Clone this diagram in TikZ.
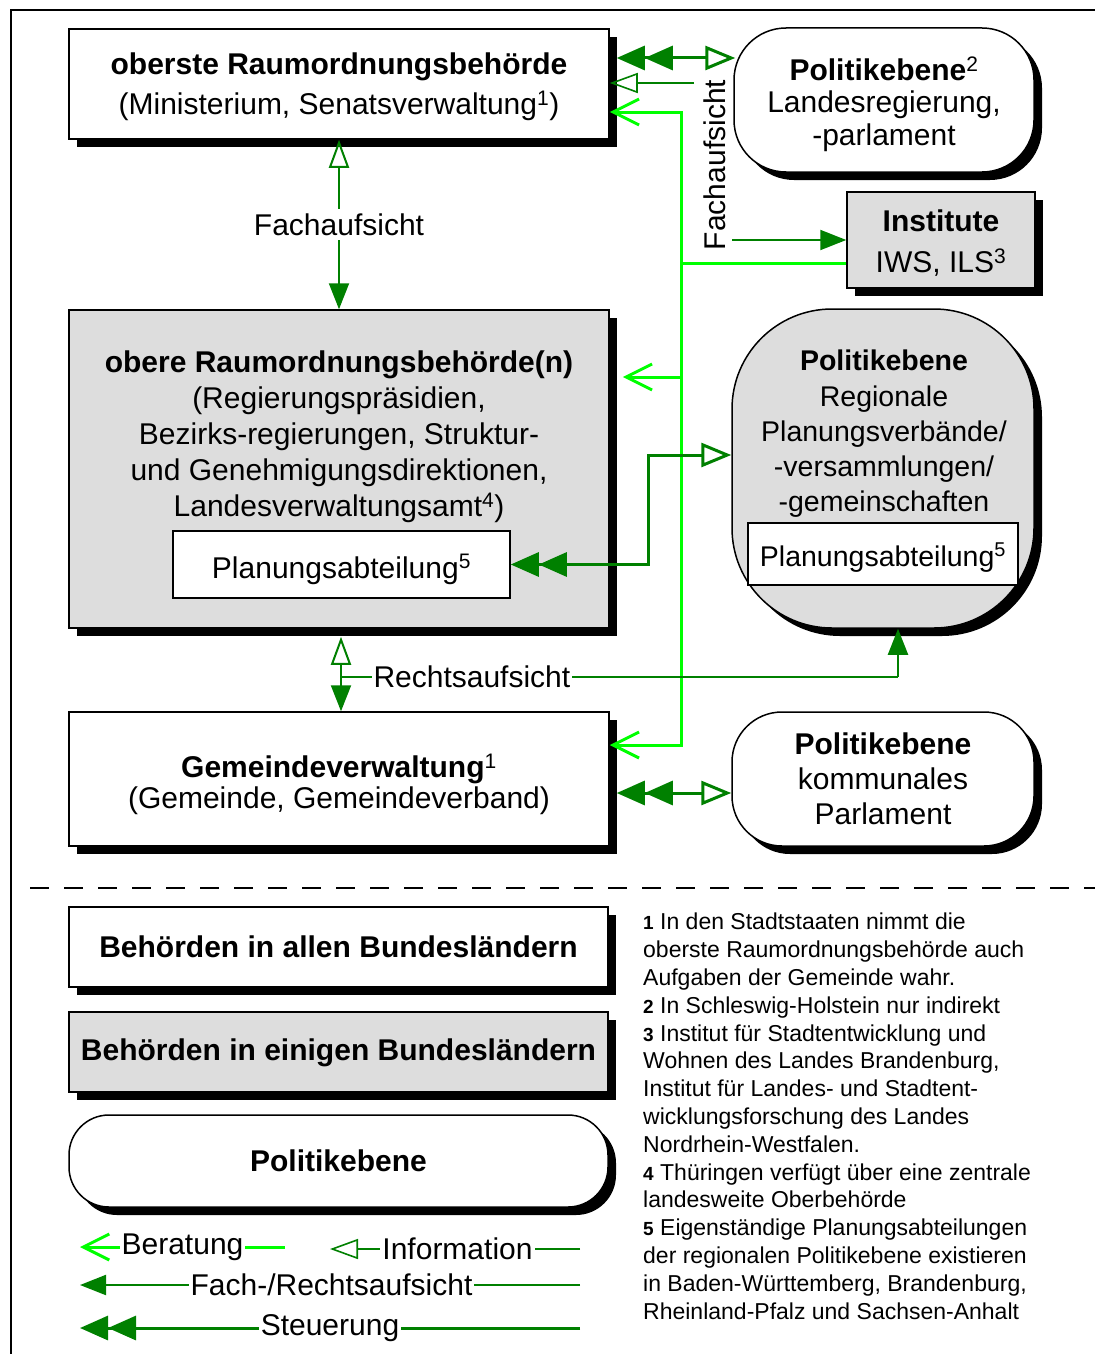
\documentclass[tikz,border=0pt]{standalone}
\usepackage{fontspec}
\setmainfont{Liberation Sans}
\usetikzlibrary{arrows.meta,shadows,calc}
\definecolor{dkgreen}{RGB}{0,128,0}
\definecolor{ltgreen}{RGB}{0,255,0}
\definecolor{boxgray}{RGB}{221,221,221}
\newcommand{\fnnr}[1]{{\bfseries\fontsize{19}{19}\selectfont #1}}

\tikzset{
  fachtip/.tip={Triangle[length=26pt,width=20pt]},
  infotip/.tip={Triangle[open,length=28pt,width=20pt]},
  steuertip/.tip={Triangle[length=28pt,width=24pt]},
  berattip/.tip={Straight Barb[length=26pt,width=26pt,line width=3pt]},
  txt/.style={font=\fontsize{30}{36}\selectfont},
  box/.style={draw=black, line width=1.5pt, fill=white, inner sep=0pt, align=center,
    general shadow={fill=black, shadow xshift=8pt, shadow yshift=-8pt}},
  graybox/.style={box, fill=boxgray},
  pol/.style={box, rounded corners=#1},
  subbox/.style={draw=black, line width=1.5pt, fill=white, inner sep=0pt, txt},
  beratline/.style={draw=ltgreen, line width=3pt},
  beratung/.style={beratline, arrows=-berattip},
  steuer/.style={draw=dkgreen, line width=3pt, arrows={steuertip[]steuertip[]-infotip[line width=3pt,width=24pt,length=30pt]}},
  info/.style={draw=dkgreen, line width=1.6pt, arrows=-infotip},
  fach/.style={draw=dkgreen, line width=2pt, arrows=-fachtip},
  lbl/.style={fill=white, inner sep=2pt, text=black, txt},
}

\begin{document}
\begin{tikzpicture}[x=1pt,y=-1pt]
\useasboundingbox (0,0) rectangle (1095,1354);

% frame
\coordinate (f0) at (11,1354);
\coordinate (f1) at (11,10);
\coordinate (f2) at (1095,10);
\draw[line width=1.2pt] (f0) -- (f1) -- (f2);

% authorities
\node[box, minimum width=540pt, minimum height=110pt] (A) at (339,84) {};
\node[align=center, font=\fontsize{30}{40}\selectfont] (At) at (339,87)
  {\textbf{oberste Raumordnungsbehörde}\\(Ministerium, Senatsverwaltung\textsuperscript{1})};
\node[graybox, minimum width=540pt, minimum height=318pt] (B) at (339,469) {};
\node[align=center, font=\fontsize{30}{36}\selectfont] (Bt) at (339,437)
  {\textbf{obere Raumordnungsbehörde(n)}\\(Regierungspräsidien,\\Bezirks-regierungen, Struktur-\\und Genehmigungsdirektionen,\\Landesverwaltungsamt\textsuperscript{4})};
\node[subbox, minimum width=337pt, minimum height=67pt, text height=30pt, text depth=3pt] (PA1) at (341.5,564.5) {Planungsabteilung\textsuperscript{5}};
\node[box, minimum width=540pt, minimum height=134pt] (C) at (339,779) {};
\node[align=center, font=\fontsize{30}{31}\selectfont] (Ct) at (339,784)
  {\textbf{Gemeindeverwaltung}\textsuperscript{1}\\(Gemeinde, Gemeindeverband)};

% political level and institutes
\node[pol=52pt, minimum width=300pt, minimum height=144pt] (P1) at (884,100) {};
\node[align=center, font=\fontsize{30}{32.5}\selectfont] (P1t) at (884,104)
  {\textbf{Politikebene}\textsuperscript{2}\\Landesregierung,\\-parlament};
\node[graybox, minimum width=188pt, minimum height=96pt] (I) at (941,240) {};
\node[align=center, font=\fontsize{30}{41}\selectfont] (It) at (941,243)
  {\textbf{Institute}\\IWS, ILS\textsuperscript{3}};
\node[pol=100pt, fill=boxgray, minimum width=302pt, minimum height=319pt] (P2) at (883,468.5) {};
\node[align=center, font=\fontsize{28.5}{35.3}\selectfont] (P2t) at (884,434)
  {\textbf{Politikebene}\\Regionale\\Planungsverbände/\\-versammlungen/\\-gemeinschaften};
\node[subbox, minimum width=270pt, minimum height=62pt, text height=28pt, text depth=4pt, font=\fontsize{28.5}{34}\selectfont] (PA2) at (883,554) {Planungsabteilung\textsuperscript{5}};
\node[pol=50pt, minimum width=302pt, minimum height=134pt, font=\fontsize{30}{35}\selectfont] (P3) at (883,779)
  {\textbf{Politikebene}\\kommunales\\Parlament};

% advice (Beratung) from the institutes
\coordinate (jA) at (681,112);
\coordinate (jI) at (681,263);
\coordinate (jB) at (681,377);
\coordinate (jC) at (681,745);
\draw[beratline, arrows={berattip-berattip}] (A.east |- jA) -- (jA) -- (jC) -- (C.east |- jC);
\draw[beratline] (jI) -- (I.west |- jI);
\draw[beratung] (jB) -- ($(B.east |- jB)+(13,0)$);

% steering
\coordinate (sA) at (700,58);
\draw[steuer] ($(A.east |- sA)+(7,0)$) -- ($(P1.west |- sA)+(2,0)$);
\coordinate (sx) at (648,455);
\draw[steuer] (PA1.east) -| (sx) -- (sx -| P2.west);
\coordinate (sC) at (700,793);
\draw[steuer] ($(C.east |- sC)+(7,0)$) -- (P3.west |- sC);

% information and Fachaufsicht
\coordinate (iA) at (694,83);
\draw[info] (iA) -- (A.east |- iA);
\node[rotate=90, txt] (fl) at (715,165) {Fachaufsicht};
\coordinate (fI) at (732,240);
\draw[fach] (fI) -- (I.west |- fI);
\draw[fach, arrows={infotip-fachtip}] (A.south) -- node[lbl, inner sep=4pt] (fab) {Fachaufsicht} (B.north);

% Rechtsaufsicht
\coordinate (rB) at ($(B.south)+(2,8)$);
\draw[fach, arrows={infotip-fachtip}] (rB) -- (rB |- C.north);
\coordinate (rj) at (341,677);
\coordinate (rk) at (898,677);
\draw[fach, arrows=-] (rj) -- node[lbl, pos=0.235] (ra) {Rechtsaufsicht} (rk);
\draw[fach] (rk) -- (rk |- P2.south);

% separator
\coordinate (d0) at (30,888);
\coordinate (d1) at (1095,888);
\draw[line width=1.5pt, dash pattern=on 19pt off 15pt] (d0) -- (d1);

% legend boxes
\node[box, minimum width=539pt, minimum height=80pt, font=\bfseries\fontsize{30}{36}\selectfont] (L1) at (338.5,947) {Behörden in allen Bundesländern};
\node[graybox, minimum width=539pt, minimum height=80pt, font=\bfseries\fontsize{30}{36}\selectfont, text height=22pt, text depth=6pt] (L2) at (338.5,1052) {Behörden in einigen Bundesländern};
\node[pol=40pt, minimum width=539pt, minimum height=92pt, font=\bfseries\fontsize{30}{36}\selectfont] (L3) at (338.5,1161) {Politikebene};

% legend connectors
\coordinate (lb0) at (80,1247);  \coordinate (lb1) at (285,1247);
\draw[beratung] (lb1) -- node[lbl] (lbt) {Beratung} (lb0);
\coordinate (li0) at (330,1249); \coordinate (li1) at (580,1249);
\draw[info] (li1) -- node[lbl, pos=0.49] (lit) {Information} (li0);
\coordinate (lf0) at (80,1285);  \coordinate (lf1) at (580,1285);
\draw[fach] (lf1) -- node[lbl, pos=0.497] (lft) {Fach-/Rechtsaufsicht} (lf0);
\coordinate (ls0) at (80,1328);  \coordinate (ls1) at (580,1328);
\draw[draw=dkgreen, line width=3pt, arrows=-{steuertip[]steuertip[]}] (ls1) -- node[lbl] (lst) {Steuerung} (ls0);

% footnotes
\node[anchor=north west, align=left, inner sep=0pt, font=\fontsize{23}{27.8}\selectfont] (fn) at (643,913)
  {\fnnr{1} In den Stadtstaaten nimmt die\\
   oberste Raumordnungsbehörde auch\\
   Aufgaben der Gemeinde wahr.\\
   \fnnr{2} In Schleswig-Holstein nur indirekt\\
   \fnnr{3} Institut für Stadtentwicklung und\\
   Wohnen des Landes Brandenburg,\\
   Institut für Landes- und Stadtent-\\
   wicklungsforschung des Landes\\
   Nordrhein-Westfalen.\\
   \fnnr{4} Thüringen verfügt über eine zentrale\\
   landesweite Oberbehörde\\
   \fnnr{5} Eigenständige Planungsabteilungen\\
   der regionalen Politikebene existieren\\
   in Baden-Württemberg, Brandenburg,\\
   Rheinland-Pfalz und Sachsen-Anhalt};
\end{tikzpicture}
\end{document}
